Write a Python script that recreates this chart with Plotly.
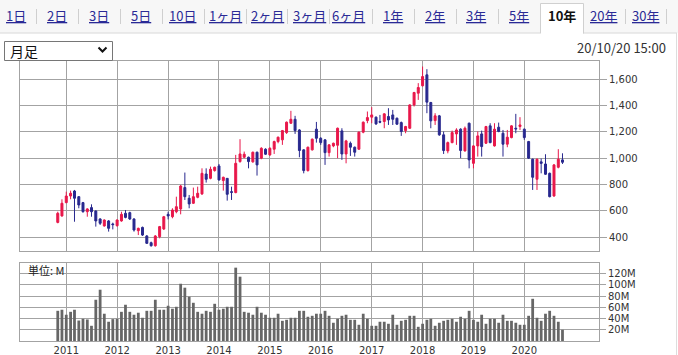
import pandas as pd
import plotly.graph_objects as go

# ---------------- data ----------------
months = pd.date_range("2010-11-01", periods=120, freq="MS")

open_ = [513,562,663,713,751,708,663,594,625,599,
         539,486,524,501,488,524,582,587,539,450,
         475,410,359,336,405,463,574,556,594,615,
         777,696,658,703,729,880,847,906,941,830,
         847,746,739,974,1007,1007,972,1045,1000,1068,
         1025,1068,1126,1139,1194,1265,1295,1214,1063,906,
         1063,1220,1151,1139,1042,1093,1098,1207,1032,1113,
         1083,1068,1197,1285,1311,1311,1278,1278,1316,1328,
         1303,1270,1209,1227,1404,1493,1549,1632,1422,1285,
         1321,1177,1055,1118,1184,1220,1055,1265,961,1093,
         1184,1113,1245,1093,1235,1189,1106,1156,1227,1240,
         1220,1126,992,840,972,956,885,713,931,987]
high = [594,688,746,754,759,713,668,620,650,605,
        544,536,531,511,536,594,607,594,544,473,
        481,417,367,417,486,562,594,620,708,797,
        891,721,777,784,923,923,936,936,956,860,
        847,784,1025,1144,1050,1012,1050,1050,1083,1075,
        1083,1133,1164,1214,1278,1359,1321,1220,1068,1088,
        1149,1275,1159,1144,1106,1118,1232,1227,1139,1126,
        1088,1202,1278,1354,1387,1316,1328,1341,1379,1366,
        1308,1278,1245,1409,1503,1569,1695,1675,1427,1341,
        1328,1202,1126,1209,1227,1227,1240,1270,1098,1202,
        1209,1245,1265,1265,1270,1214,1214,1250,1336,1311,
        1225,1131,997,997,997,1030,891,956,1068,1037]
low = [506,556,658,688,518,620,587,556,556,481,
       493,481,443,460,481,518,544,531,443,417,
       410,349,329,329,392,455,536,544,582,574,
       683,620,653,696,721,815,840,898,830,754,
       678,683,734,966,1000,923,966,868,992,1025,
       1017,1032,1113,1101,1184,1260,1184,1007,885,898,
       1058,1118,1101,949,1012,1083,1000,987,961,1017,
       1012,1063,1189,1265,1265,1252,1265,1227,1252,1252,
       1252,1169,1189,1222,1392,1442,1544,1341,1227,1252,
       1169,1032,1037,1113,1101,1000,1050,923,923,1012,
       1012,1108,1113,1088,1197,1012,1083,1151,1189,1214,
       1139,994,759,759,885,873,703,708,923,956]
close = [582,658,713,734,696,645,594,615,594,524,
         506,531,468,496,531,574,551,539,455,468,
         417,354,336,410,481,556,562,607,632,789,
         708,653,708,734,885,840,916,931,835,855,
         726,741,961,1032,1030,974,1045,949,1075,1030,
         1075,1126,1159,1209,1273,1295,1209,1058,906,1083,
         1144,1151,1118,1042,1101,1113,1227,1032,1131,1083,
         1045,1197,1273,1308,1328,1260,1273,1336,1290,1295,
         1258,1202,1240,1404,1498,1536,1619,1425,1283,1321,
         1177,1058,1118,1194,1214,1058,1227,987,1093,1169,
         1088,1240,1118,1220,1202,1106,1159,1245,1222,1252,
         1156,1000,855,992,961,878,708,949,992,969]
volume_m = [53.8,55.7,46.8,52,55.7,36.5,39.6,38.4,27.1,73.5,
            91.4,48.6,34.3,39,39.6,52,64.6,52,46.8,50.4,
            41.4,53.8,53.8,73.5,55.7,55.7,62.8,57.5,61,102,
            95,78.9,68.1,52,48.6,53.8,52,66.3,55.7,57.5,
            61,61,130.7,114.6,52,50.4,46.8,61,50.4,46.8,
            41.4,41.4,48.6,36,37.8,41.4,41.4,53.8,53.8,43.2,
            44.9,48.6,48.6,53.8,44.9,32.5,39.6,44.9,46.8,37.8,
            37.8,28.9,48.6,39.6,27.1,27.1,34.3,34.3,30.7,46.8,
            28.9,36,37.8,44.9,44.9,25.3,30.7,37.8,39.6,27.1,
            32.5,36,37.8,39.6,34.3,43.2,39.6,53.8,37.8,34.3,
            46.8,30.7,39.6,39.6,32.5,46.8,36,36,32.5,28.9,
            28.9,44.9,75.2,41.4,36,48.6,53.8,44.9,34.3,20]

years = [str(y) for y in range(2011, 2021)]
price_ticks = [400, 600, 800, 1000, 1200, 1400, 1600]
vol_ticks = [20, 40, 60, 80, 100, 120]
vol_labels = ["20M", "40M", "60M", "80M", "100M", "120M"]
tab_labels = ["1日","2日","3日","5日","10日","1ヶ月","2ヶ月","3ヶ月","6ヶ月","1年","2年","3年","5年","10年","20年","30年"]
selected_tab = "10年"
period_label = "月足"
stamp = "20/10/20 15:00"
unit_label = "単位: M"

# ---------------- styling / layout helpers ----------------
W, H = 678, 355
L, R, T, B = 20, 79, 61, 14
PW, PH = W - L - R, H - T - B
def fx(x): return (x - L) / PW
def fy(y): return (H - B - y) / PH

FONT = "Noto Sans CJK JP, Noto Sans, sans-serif"
AXFONT = "DejaVu Sans, Verdana, sans-serif"
RED = "#e8174a"
BLUE = "#28288e"
GRID = "#a3a3a3"
LINK = "#2a2a96"

year_dates = [f"{y}-01-01" for y in years]

fig = go.Figure()
fig.add_trace(go.Candlestick(
    x=months, open=open_, high=high, low=low, close=close,
    increasing=dict(line=dict(color=RED, width=1), fillcolor=RED),
    decreasing=dict(line=dict(color=BLUE, width=1), fillcolor=BLUE),
    whiskerwidth=0, xaxis="x", yaxis="y", hoverinfo="skip"))
fig.add_trace(go.Bar(
    x=months, y=volume_m, marker=dict(color="#666666", line=dict(width=0)),
    width=[20 * 86400000] * len(months), xaxis="x2", yaxis="y2", hoverinfo="skip"))

axis_common = dict(showgrid=True, gridcolor=GRID, gridwidth=1, showline=True,
                   mirror=True, linecolor=GRID, linewidth=1, zeroline=False,
                   automargin=False)
tickfont = dict(family=AXFONT, size=10, color="#333333")

xr = ["2010-02-03", "2021-06-20"]
fig.update_layout(
    width=W, height=H, margin=dict(l=L, r=R, t=T, b=B, pad=0, autoexpand=False),
    paper_bgcolor="white", plot_bgcolor="white", showlegend=False,
    font=dict(family=FONT, size=11, color="#333333"),
    boxgap=0.28,
    xaxis=dict(type="date", range=xr, domain=[0, 1], anchor="y",
               tickvals=year_dates, showticklabels=False, ticks="",
               rangeslider=dict(visible=False), **axis_common),
    yaxis=dict(domain=[fy(251), 1], range=[296, 1737], side="right",
               tickvals=price_ticks, tickformat=",", ticks="outside",
               ticklen=7, tickcolor=GRID, anchor="x",
               tickfont=tickfont, **axis_common),
    xaxis2=dict(type="date", range=xr, domain=[0, 1], anchor="y2", matches="x",
                tickvals=year_dates, ticktext=years, ticks="",
                tickfont=tickfont, **axis_common),
    yaxis2=dict(domain=[0, fy(263)], range=[0, 139], side="right", anchor="x2",
                tickvals=vol_ticks, ticktext=vol_labels, ticks="outside",
                ticklen=6, tickcolor=GRID,
                tickfont=tickfont, **axis_common),
)

shapes = []
ann = []
# tab bar background
shapes.append(dict(type="rect", xref="paper", yref="paper", x0=fx(0), x1=fx(678),
                   y0=fy(33), y1=fy(0), fillcolor="#f7f7f7", line=dict(width=0), layer="below"))
shapes.append(dict(type="line", xref="paper", yref="paper", x0=fx(0), x1=fx(540),
                   y0=fy(33), y1=fy(33), line=dict(color="#d8d8d8", width=1)))
shapes.append(dict(type="line", xref="paper", yref="paper", x0=fx(583), x1=fx(677),
                   y0=fy(33), y1=fy(33), line=dict(color="#d8d8d8", width=1)))
# selected tab
shapes.append(dict(type="rect", xref="paper", yref="paper", x0=fx(540), x1=fx(583),
                   y0=fy(34), y1=fy(4), fillcolor="white", line=dict(width=0)))
shapes.append(dict(type="path", xref="paper", yref="paper",
                   path=f"M {fx(540.5)} {fy(33.5)} L {fx(540.5)} {fy(3.5)} L {fx(583.5)} {fy(3.5)} L {fx(583.5)} {fy(33.5)}",
                   line=dict(color="#d0d0d0", width=1)))
# right border of content panel
shapes.append(dict(type="line", xref="paper", yref="paper", x0=fx(676.5), x1=fx(676.5),
                   y0=fy(33), y1=fy(355), line=dict(color="#dddddd", width=1)))

tab_centers = [16, 57, 99, 141, 182, 225, 267, 309, 349, 393, 435, 476, 519, 562, 603, 645]
separators = [36, 78, 120, 162, 204, 246, 287, 329, 372, 414, 456, 498, 625, 666]
for s in separators:
    shapes.append(dict(type="line", xref="paper", yref="paper", x0=fx(s + 0.5), x1=fx(s + 0.5),
                       y0=fy(9), y1=fy(24), line=dict(color="#cfcfcf", width=1)))
for lab, cx in zip(tab_labels, tab_centers):
    if lab == selected_tab:
        txt, col = f"<b>{lab}</b>", "#111111"
    else:
        txt, col = f"<u>{lab}</u>", LINK
    ann.append(dict(text=txt, x=fx(cx), y=fy(16), xref="paper", yref="paper",
                    xanchor="center", yanchor="middle", showarrow=False,
                    font=dict(family=FONT, size=13, color=col)))

# dropdown
shapes.append(dict(type="rect", xref="paper", yref="paper", x0=fx(4.5), x1=fx(112.5),
                   y0=fy(60.5), y1=fy(41.5), fillcolor="white",
                   line=dict(color="#767676", width=1)))
shapes.append(dict(type="path", xref="paper", yref="paper",
                   path=f"M {fx(98.5)} {fy(47.5)} L {fx(102.5)} {fy(51.5)} L {fx(106.5)} {fy(47.5)}",
                   line=dict(color="#111111", width=2)))
ann.append(dict(text=period_label, x=fx(8), y=fy(51), xref="paper", yref="paper",
                xanchor="left", yanchor="middle", showarrow=False,
                font=dict(family=FONT, size=14, color="#111111")))
ann.append(dict(text=stamp, x=fx(668), y=fy(48), xref="paper", yref="paper",
                xanchor="right", yanchor="middle", showarrow=False,
                font=dict(family=FONT, size=13, color="#333333")))
ann.append(dict(text=unit_label, x=fx(26), y=fy(270), xref="paper", yref="paper",
                xanchor="left", yanchor="middle", showarrow=False,
                font=dict(family=FONT, size=11, color="#222222")))

fig.update_layout(shapes=shapes, annotations=ann)
fig.write_html("out.html")
